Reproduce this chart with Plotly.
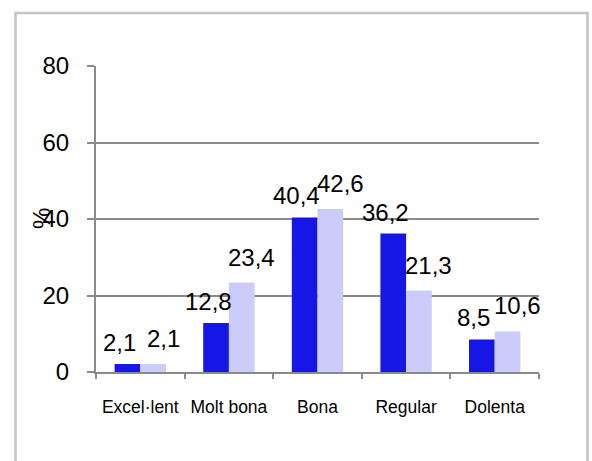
import plotly.graph_objects as go

# Survey results (%) by rating, two groups
categories = ["Excel·lent", "Molt bona", "Bona", "Regular", "Dolenta"]
series_a = [2.1, 12.8, 40.4, 36.2, 8.5]
series_b = [2.1, 23.4, 42.6, 21.3, 10.6]
y_ticks = [0, 20, 40, 60, 80]

W, H = 592, 461
M_L, M_R, M_T, M_B = 96, 53, 66, 89
PW, PH = W - M_L - M_R, H - M_T - M_B

FONT = "Liberation Sans, Arial, sans-serif"
DARK = "#1616E6"
LIGHT = "#CCCCFA"
AXIS = "#8a8a8a"


def fmt(v):
    return f"{v:.1f}".replace(".", ",")


def px_x(px):
    return (px - M_L) / PW


def px_y(py):
    return (H - M_B - py) / PH


fig = go.Figure()
fig.add_trace(go.Bar(x=categories, y=series_a, marker=dict(color=DARK, line_width=0), name="A"))
fig.add_trace(go.Bar(x=categories, y=series_b, marker=dict(color=LIGHT, line_width=0), name="B"))

# value labels above each bar, nudged apart so neighbours do not collide
annotations = []
for vals, idx, dx, dy in ((series_a, 0, -8, 6), (series_b, 1, 10, 10)):
    for i, (c, v) in enumerate(zip(categories, vals)):
        annotations.append(dict(
            x=i + (-0.145 if idx == 0 else 0.145), y=v, xref="x", yref="y",
            text=fmt(v), showarrow=False, xanchor="center", yanchor="bottom",
            xshift=dx, yshift=dy, font=dict(family=FONT, size=24, color="black"),
        ))

# rotated axis title
annotations.append(dict(
    x=px_x(41), y=0.5, xref="paper", yref="paper", text="%", textangle=-90,
    showarrow=False, xanchor="center", yanchor="middle",
    font=dict(family=FONT, size=24, color="black"),
))

fig.update_layout(
    width=W, height=H,
    margin=dict(l=M_L, r=M_R, t=M_T, b=M_B, pad=0),
    paper_bgcolor="white", plot_bgcolor="white",
    barmode="group", bargap=0.42, bargroupgap=0,
    showlegend=False,
    annotations=annotations,
    shapes=[dict(
        type="rect", xref="paper", yref="paper",
        x0=px_x(15.5), x1=px_x(587.5), y0=px_y(475), y1=px_y(13),
        line=dict(color="#c4c4c4", width=2.5), fillcolor="rgba(0,0,0,0)", layer="below",
    )],
    xaxis=dict(
        type="category", range=[-0.5, 4.5],
        showline=True, linecolor=AXIS, linewidth=2,
        ticks="outside", tickson="boundaries", ticklen=5, tickwidth=2, tickcolor=AXIS,
        showgrid=False, zeroline=False,
        tickfont=dict(family=FONT, size=17.5, color="black"),
        ticklabelstandoff=18,
    ),
    yaxis=dict(
        range=[0, 80], tickvals=y_ticks, ticktext=[str(t) for t in y_ticks],
        showline=True, linecolor=AXIS, linewidth=2,
        ticks="outside", ticklen=7, tickwidth=2, tickcolor=AXIS,
        showgrid=True, gridcolor=AXIS, gridwidth=2, zeroline=False,
        tickfont=dict(family=FONT, size=24, color="black"),
        ticklabelstandoff=13,
    ),
)

fig.write_html("out.html")
